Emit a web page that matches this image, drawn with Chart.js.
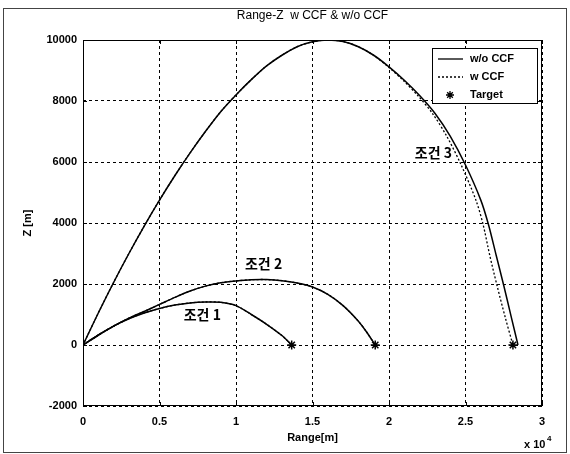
<!DOCTYPE html>
<html>
<head>
<meta charset="utf-8">
<script src="https://cdn.jsdelivr.net/npm/chart.js@4/dist/chart.umd.min.js"></script>
<style>
    body { margin: 0; background: #fff; }
    #wrap { position: relative; width: 570px; height: 454px; }
    #frame { position: absolute; left: 3px; top: 8px; width: 562px; height: 443px; border: 1px solid #444; }
</style>
</head>
<body>
<div id="wrap">
    <div id="frame"></div>
    <canvas id="range-z" width="570" height="454"></canvas>
</div>
<script>
    "use strict";

    // Case 1 (same path with and without CCF)
    var case1X = [0, 1000, 2000, 3000, 4000, 5000, 6000, 7000, 8000, 9000, 10000, 11000, 12000, 13000, 13640];
    var case1Z = [0, 330, 620, 860, 1050, 1200, 1310, 1380, 1410, 1400, 1290, 1000, 680, 310, 0];

    // Case 2
    var case2X = [0, 1000, 2000, 3000, 4000, 5000, 6000, 7000, 8000, 9000, 10000, 11000, 12000, 13000, 14000, 15000, 16000, 17000, 18000, 18500, 19100];
    var case2Z = [0, 320, 620, 880, 1100, 1330, 1560, 1770, 1930, 2040, 2100, 2140, 2145, 2110, 2030, 1900, 1660, 1290, 780, 450, 0];

    // Case 3 w/o CCF
    var case3X = [0, 1000, 2000, 3000, 4000, 5000, 6000, 7000, 8000, 9000, 10000, 11000, 12000, 13000, 14000, 15000, 16000, 17000, 18000, 19000, 20000, 21000, 22000, 23000, 24000, 25000, 26000, 26500, 27000, 27500, 28000, 28430];
    var case3Z = [0, 1050, 2050, 3000, 3900, 4750, 5550, 6300, 7000, 7650, 8200, 8700, 9150, 9500, 9780, 9940, 10000, 9950, 9780, 9500, 9120, 8680, 8180, 7600, 6850, 5900, 4750, 3950, 2950, 1950, 900, 0];

    // Case 3 w CCF
    var case3CcfX = [0, 1000, 2000, 3000, 4000, 5000, 6000, 7000, 8000, 9000, 10000, 11000, 12000, 13000, 14000, 15000, 16000, 17000, 18000, 18980, 19950, 20920, 21880, 22830, 23770, 24720, 25680, 26150, 26580, 27060, 27600, 28100];
    var case3CcfZ = [0, 1050, 2050, 3000, 3900, 4750, 5550, 6300, 7000, 7650, 8200, 8700, 9150, 9500, 9780, 9940, 10000, 9950, 9780, 9500, 9120, 8680, 8180, 7600, 6850, 5900, 4750, 3950, 2950, 1950, 900, 0];

    // Targets
    var targetX = [13640, 19100, 28100];
    var targetZ = [0, 0, 0];

    var caseNames = ["조건 1", "조건 2", "조건 3"];
    var legendNames = ["w/o CCF", "w CCF", "Target"];

    var xTicks = [0, 5000, 10000, 15000, 20000, 25000, 30000];
    var zTicks = [-2000, 0, 2000, 4000, 6000, 8000, 10000];

    function pts(xs, zs) {
        return xs.map(function (x, i) { return { x: x, y: zs[i] }; });
    }

    function line(xs, zs, dashed) {
        return {
            data: pts(xs, zs),
            showLine: true,
            borderColor: "#000",
            borderWidth: dashed ? 1.3 : 1.5,
            borderDash: dashed ? [2, 2] : [],
            pointRadius: 0,
            tension: 0.3,
        };
    }

    var font = "Liberation Sans, Arial, sans-serif";

    // title, frame, legend, case labels
    var decor = {
        id: "decor",
        afterDatasetsDraw: function (chart) {
            var c = chart.ctx, a = chart.chartArea;
            var sx = chart.scales.x, sy = chart.scales.y;
            c.save();
            c.strokeStyle = "#000";
            c.lineWidth = 1;
            c.setLineDash([]);
            c.strokeRect(a.left + 0.5, a.top + 0.5, a.right - a.left - 1, a.bottom - a.top - 1);

            // inner ticks
            xTicks.forEach(function (v) {
                var px = Math.round(sx.getPixelForValue(v)) + 0.5;
                c.beginPath();
                c.moveTo(px, a.bottom); c.lineTo(px, a.bottom - 4);
                c.moveTo(px, a.top); c.lineTo(px, a.top + 4);
                c.stroke();
            });
            zTicks.forEach(function (v) {
                var py = Math.round(sy.getPixelForValue(v)) + 0.5;
                c.beginPath();
                c.moveTo(a.left, py); c.lineTo(a.left + 4, py);
                c.moveTo(a.right, py); c.lineTo(a.right - 4, py);
                c.stroke();
            });

            c.fillStyle = "#000";
            c.font = "12px " + font;
            c.textAlign = "center";
            c.textBaseline = "middle";
            c.fillText("Range-Z  w CCF & w/o CCF", (a.left + a.right) / 2, 16);

            c.font = "bold 11px " + font;
            c.textAlign = "left";
            c.fillText("x 10", 524, 445);
            c.font = "bold 8px " + font;
            c.fillText("4", 547, 439);

            // legend
            var lx = 432, ly = 48, lw = 105, lh = 55;
            c.fillStyle = "#fff";
            c.fillRect(lx, ly, lw, lh);
            c.strokeRect(lx + 0.5, ly + 0.5, lw, lh);
            c.lineWidth = 1.3;
            c.beginPath(); c.moveTo(438, 59); c.lineTo(463, 59); c.stroke();
            c.setLineDash([2, 2]);
            c.beginPath(); c.moveTo(438, 77); c.lineTo(463, 77); c.stroke();
            c.setLineDash([]);
            c.fillStyle = "#000";
            c.font = "bold 11px " + font;
            c.fillText(legendNames[0], 470, 59);
            c.fillText(legendNames[1], 470, 77);
            c.fillText(legendNames[2], 470, 95);
            c.beginPath();
            for (var k = 0; k < 4; k++) {
                var ang = k * Math.PI / 4;
                c.moveTo(450 - 4 * Math.cos(ang), 95 - 4 * Math.sin(ang));
                c.lineTo(450 + 4 * Math.cos(ang), 95 + 4 * Math.sin(ang));
            }
            c.stroke();

            // case labels
            var spots = [[7800, 980], [11800, 2680], [22900, 6300]];
            c.font = "bold 14px 'Noto Sans CJK KR', sans-serif";
            c.textAlign = "center";
            spots.forEach(function (s, i) {
                c.fillText(caseNames[i], sx.getPixelForValue(s[0]), sy.getPixelForValue(s[1]));
            });
            c.restore();
        },
    };

    var ctx = document.getElementById("range-z").getContext("2d");
    var chart = new Chart(ctx, {
        type: "scatter",
        data: {
            datasets: [
                line(case1X, case1Z, false),
                line(case1X, case1Z, true),
                line(case2X, case2Z, false),
                line(case2X, case2Z, true),
                line(case3X, case3Z, false),
                line(case3CcfX, case3CcfZ, true),
                {
                    data: pts(targetX, targetZ),
                    pointStyle: "star",
                    pointRadius: 4.5,
                    borderColor: "#000",
                    backgroundColor: "#000",
                    borderWidth: 1.5,
                },
            ],
        },
        options: {
            responsive: false,
            animation: false,
            layout: { padding: { left: 0, top: 40, right: 28, bottom: 0 } },
            plugins: { legend: { display: false }, tooltip: { enabled: false } },
            scales: {
                x: {
                    type: "linear",
                    min: 0,
                    max: 30000,
                    afterBuildTicks: function (s) { s.ticks = xTicks.map(function (v) { return { value: v }; }); },
                    afterFit: function (s) { s.height = 48; },
                    ticks: {
                        color: "#000",
                        padding: 9,
                        maxRotation: 0,
                        font: { family: font, size: 11, weight: "bold" },
                        callback: function (v) { return String(v / 10000); },
                    },
                    grid: { color: "#000", lineWidth: 1, drawTicks: false },
                    border: { display: false, dash: [3, 3] },
                    title: {
                        display: true,
                        text: "Range[m]",
                        color: "#000",
                        font: { family: font, size: 11, weight: "bold" },
                        padding: { top: 0, bottom: 9 },
                    },
                },
                y: {
                    type: "linear",
                    min: -2000,
                    max: 10000,
                    afterBuildTicks: function (s) { s.ticks = zTicks.map(function (v) { return { value: v }; }); },
                    afterFit: function (s) { s.width = 83; },
                    ticks: {
                        color: "#000",
                        padding: 6,
                        font: { family: font, size: 11, weight: "bold" },
                        callback: function (v) { return String(v); },
                    },
                    grid: { color: "#000", lineWidth: 1, drawTicks: false },
                    border: { display: false, dash: [3, 3] },
                    title: {
                        display: true,
                        text: "Z [m]",
                        color: "#000",
                        font: { family: font, size: 11, weight: "bold" },
                        padding: { top: 21, bottom: 0 },
                    },
                },
            },
        },
        plugins: [decor],
    });
</script>
</body>
</html>
